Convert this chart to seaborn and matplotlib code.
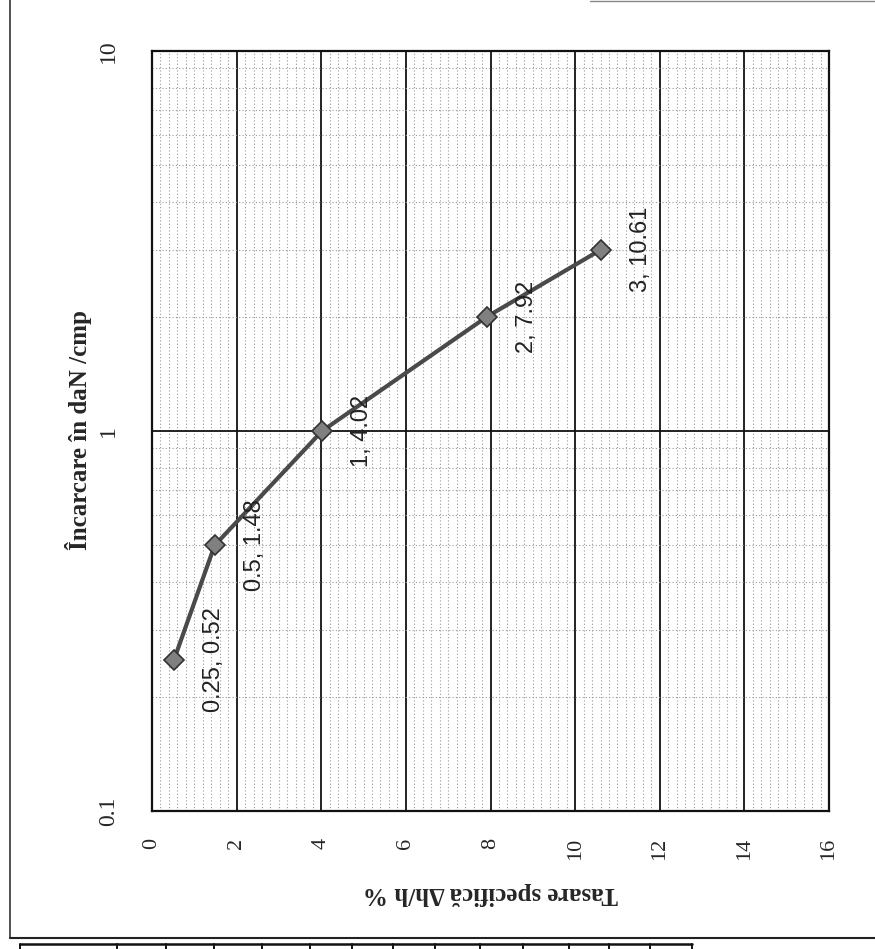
import matplotlib
matplotlib.use("Agg")
import matplotlib.pyplot as plt
from matplotlib.lines import Line2D
from matplotlib.ticker import MultipleLocator, LogLocator, FixedLocator, NullFormatter
import seaborn as sns
import pandas as pd

# ---- data ----
load = [0.25, 0.5, 1, 2, 3]                 # Încarcare (daN/cmp)
settlement = [0.52, 1.48, 4.02, 7.92, 10.61]  # Tasare specifică (%)
x_ticks = [0, 2, 4, 6, 8, 10, 12, 14, 16]
y_ticks = [0.1, 1, 10]
y_tick_labels = ["0.1", "1", "10"]
x_title = "Tasare specifică Δh/h %"
y_title = "Încarcare în daN /cmp"

df = pd.DataFrame({"settlement": settlement, "load": load})

sns.set_style("white")
plt.rcParams["font.family"] = ["DejaVu Sans"]

fig = plt.figure(figsize=(8.75, 9.49), dpi=100)
ax = fig.add_axes([152 / 875, 1 - 811 / 949, 677 / 875, 760 / 949])

ax.set_yscale("log")
ax.set_xlim(0, 16)
ax.set_ylim(0.1, 10)

# grid
ax.xaxis.set_major_locator(FixedLocator(x_ticks))
ax.xaxis.set_minor_locator(MultipleLocator(0.2))
ax.yaxis.set_major_locator(FixedLocator(y_ticks))
ax.yaxis.set_minor_locator(LogLocator(base=10, subs=range(2, 10)))
ax.yaxis.set_minor_formatter(NullFormatter())
ax.grid(which="minor", color="#9a9a9a", linestyle=(0, (1, 2)), linewidth=0.8)
ax.grid(which="major", color="#111111", linestyle="-", linewidth=1.3)
ax.set_axisbelow(True)

sns.lineplot(data=df, x="settlement", y="load", sort=False, ax=ax,
             color="#4a4a4a", linewidth=3, marker="D", markersize=10,
             markerfacecolor="#808080", markeredgecolor="#333333",
             markeredgewidth=1.2, zorder=5)

for s, p in zip(settlement, load):
    ax.annotate(f"{p:g}, {s:g}", xy=(s, p), xytext=(29, 0),
                textcoords="offset points", rotation=90,
                ha="center", va="center", fontsize=17,
                family="Liberation Sans", color="#222222", zorder=6)

# ticks
ax.set_xticklabels([str(t) for t in x_ticks])
ax.set_yticklabels(y_tick_labels)
ax.tick_params(axis="x", which="major", direction="out", length=5, width=1.2,
               color="#111111", pad=14, labelsize=16, labelrotation=90)
ax.tick_params(axis="y", which="major", direction="out", length=6, width=1.2,
               color="#111111", pad=18, labelsize=17, labelrotation=90)
ax.tick_params(which="minor", length=0)
for lab in ax.get_xticklabels() + ax.get_yticklabels():
    lab.set_family("Liberation Serif")
for lab in ax.get_yticklabels():
    lab.set_va("center")

for sp in ax.spines.values():
    sp.set_color("#111111")
    sp.set_linewidth(1.6)
    sp.set_visible(True)

ax.set_xlabel(x_title, rotation=180, fontsize=18, family="Liberation Serif",
              fontweight="bold", va="center", ha="center")
ax.xaxis.set_label_coords(0.5, (811 - 893) / 760)
ax.set_ylabel(y_title, rotation=90, fontsize=18, family="Liberation Serif",
              fontweight="bold", va="center", ha="center")
ax.yaxis.set_label_coords((78 - 152) / 677, (811 - 430) / 760)

# scanned page frame
W, H = 875, 949
def fx(x):
    return x / W
def fy(y):
    return 1 - y / H

fig.add_artist(Line2D([fx(10), fx(10)], [fy(0), fy(938)], color="#333333", lw=1.2))
fig.add_artist(Line2D([fx(10), fx(875)], [fy(938), fy(938)], color="#222222", lw=1.5))
fig.add_artist(Line2D([fx(590), fx(875)], [fy(1), fy(1)], color="#888888", lw=1.0))
fig.add_artist(Line2D([fx(20), fx(692)], [fy(943.5), fy(943.5)], color="#111111", lw=1.8))
for xv in [20, 117, 166, 214, 262, 310, 352, 393, 435, 480, 523, 569, 609, 650, 692]:
    fig.add_artist(Line2D([fx(xv), fx(xv)], [fy(943.5), fy(949)], color="#111111", lw=1.4))

fig.savefig("out.png", dpi=100)
